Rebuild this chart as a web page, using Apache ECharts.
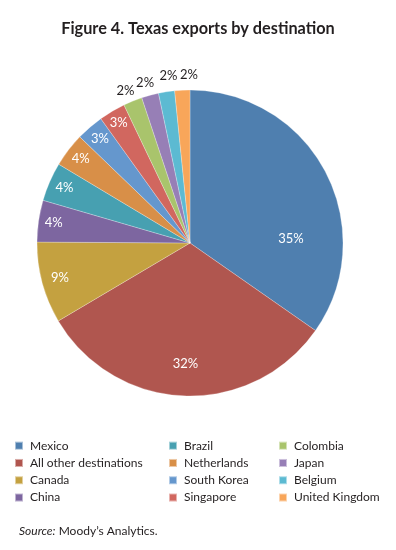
<!DOCTYPE html>
<html>
<head>
<meta charset="utf-8">
<script src="https://cdn.jsdelivr.net/npm/echarts@6/dist/echarts.min.js"></script>
<style>
html,body{margin:0;padding:0;background:#fff;}
#chart{width:396px;height:550px;}
</style>
</head>
<body>
<div id="chart"></div>
<script>
// ---- data ----
const categories = ['Mexico', 'All other destinations', 'Canada', 'China', 'Brazil', 'Netherlands',
  'South Korea', 'Singapore', 'Colombia', 'Japan', 'Belgium', 'United Kingdom'];
const shares = [34.7, 31.8, 8.6, 4.4, 4.1, 3.6, 2.9, 2.8, 2.0, 1.8, 1.7, 1.6];
const colors = ['#4f7faf', '#b0564f', '#c4a140', '#7d66a0', '#47a0b1', '#d88f48',
  '#6597cd', '#d1675f', '#a9c46c', '#977fb6', '#5cbad2', '#f8a65a'];
const legendCol1 = categories.slice(0, 4);
const legendCol2 = categories.slice(4, 8);
const legendCol3 = categories.slice(8, 12);

// ---- layout / style ----
const CX = 190, CY = 243, R = 153;
const labelRadius = [0.66, 0.79, 0.88, 0.9, 0.895, 0.9, 0.9, 0.915, 1.08, 1.09, 1.1, 1.1];
const labelTurn = [25, 0, 0, 0, 0, 0, 0, 0, -1, -0.5, 1.5, 2.5];
const outside = [false, false, false, false, false, false, false, false, true, true, true, true];
const FONT = 'Lato';

const chart = echarts.init(document.getElementById('chart'), null, { renderer: 'canvas' });

const pieData = categories.map((name, i) => ({
  name: name,
  value: shares[i],
  itemStyle: { color: colors[i] },
  label: { color: outside[i] ? '#231f20' : '#ffffff' }
}));

function legend(data, left) {
  return {
    data: data,
    orient: 'vertical',
    left: left,
    top: 437,
    icon: 'rect',
    itemWidth: 8,
    itemHeight: 8,
    itemGap: 0,
    padding: 0,
    selectedMode: false,
    textStyle: { fontFamily: FONT, fontSize: 12, color: '#231f20', lineHeight: 17.3, padding: [0, 0, 0, 2] }
  };
}

chart.setOption({
  backgroundColor: '#ffffff',
  animation: false,
  color: colors,
  title: [{
    text: 'Figure 4. Texas exports by destination',
    left: 'center',
    top: 16,
    textStyle: { fontFamily: FONT, fontSize: 16.3, fontWeight: 'bold', color: '#231f20' }
  }, {
    text: '{i|Source:} Moody\u2019s Analytics.',
    left: 14,
    top: 520,
    textStyle: {
      fontFamily: FONT, fontSize: 12, color: '#231f20', fontWeight: 'normal',
      rich: { i: { fontFamily: FONT, fontSize: 12, fontStyle: 'italic', color: '#231f20' } }
    }
  }],
  legend: [legend(legendCol1, 14), legend(legendCol2, 168), legend(legendCol3, 278)],
  series: [{
    type: 'pie',
    center: [CX, CY],
    radius: [0, R],
    startAngle: 90,
    clockwise: true,
    avoidLabelOverlap: false,
    itemStyle: { borderColor: 'rgba(255,255,255,0.5)', borderWidth: 0.5 },
    label: {
      show: true,
      position: 'inside',
      fontFamily: FONT,
      fontSize: 13,
      formatter: p => Math.round(p.value) + '%'
    },
    labelLine: { show: false },
    labelLayout: function (p) {
      const i = p.dataIndex;
      const lx = p.labelRect.x + p.labelRect.width / 2;
      const ly = p.labelRect.y + p.labelRect.height / 2;
      const ang = Math.atan2(ly - CY, lx - CX) + labelTurn[i] * Math.PI / 180;
      const rr = labelRadius[i] * R;
      return {
        x: CX + rr * Math.cos(ang),
        y: CY + rr * Math.sin(ang),
        align: 'center',
        verticalAlign: 'middle'
      };
    },
    emphasis: { disabled: true },
    data: pieData
  }]
});
</script>
</body>
</html>
